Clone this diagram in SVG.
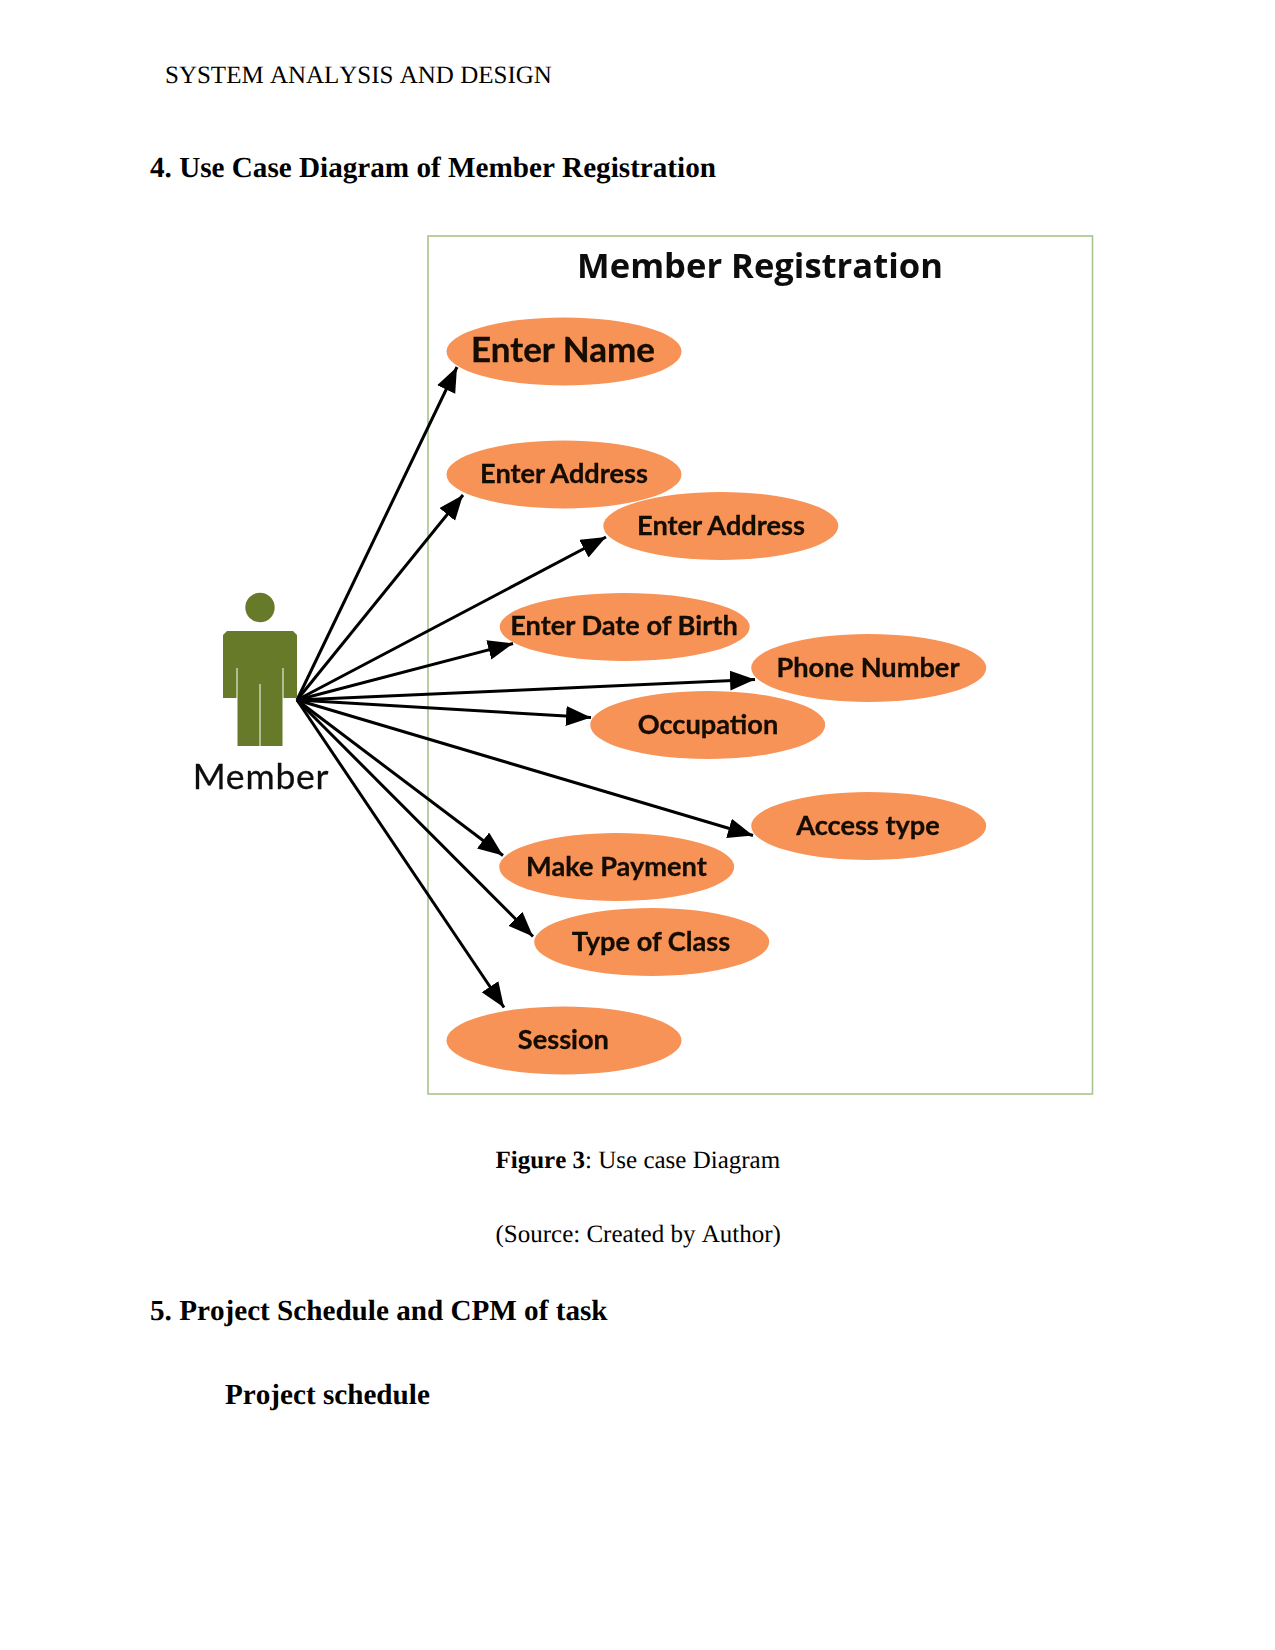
<svg xmlns="http://www.w3.org/2000/svg" width="1275" height="1650" viewBox="0 0 1275 1650">
  <style>
    .page { font-family: "Liberation Serif", "Times New Roman", serif; fill: #000; font-kerning: none; text-rendering: geometricPrecision; }
    .body { font-size: 25px; }
    .head { font-size: 29.17px; font-weight: 700; }
    .uc ellipse { fill: #f79356; }
    .uc text { font-family: Lato, "Liberation Sans", sans-serif; font-weight: 700; fill: #120a06; text-anchor: middle; font-size: 27.2px; stroke: #120a06; stroke-width: 0.3px; }
    .edge { stroke: #000; stroke-width: 3; fill: none; marker-end: url(#tip); }
    .actor { fill: #667a2b; }
  </style>
  <defs>
    <marker id="tip" markerUnits="userSpaceOnUse" markerWidth="28" markerHeight="22" refX="25" refY="10" orient="auto">
      <path d="M0 0L25 10L0 20Z" fill="#000"/>
    </marker>
    <filter id="soft" x="-2%" y="-2%" width="104%" height="104%"><feGaussianBlur stdDeviation="0.55"/></filter>
  </defs>

  <rect width="1275" height="1650" fill="#fff"/>

  <text class="page body" x="165" y="83">SYSTEM ANALYSIS AND DESIGN</text>
  <text class="page head" x="150" y="177">4. Use Case Diagram of Member Registration</text>

  <g id="figure" filter="url(#soft)">
    <g id="boundary">
      <rect x="428" y="236" width="664.500" height="858" fill="#fff" stroke="#a9c48c" stroke-width="1.6"/>
      <text x="760" y="278" text-anchor="middle" style="font-family:'Open Sans','Noto Sans',sans-serif;font-weight:700;font-size:34.6px;fill:#111">Member Registration</text>
    </g>

    <g id="connectors">
      <path class="edge" d="M297 700L457 367"/>
      <path class="edge" d="M297 700L463 495"/>
      <path class="edge" d="M297 700L606 537"/>
      <path class="edge" d="M297 700L513 643.500"/>
      <path class="edge" d="M297 700L755 679.500"/>
      <path class="edge" d="M297 700L591 717.500"/>
      <path class="edge" d="M297 700L753 835.500"/>
      <path class="edge" d="M297 700L503 855.500"/>
      <path class="edge" d="M297 700L533 936.500"/>
      <path class="edge" d="M297 700L504 1007.500"/>
    </g>

    <g id="member">
      <ellipse class="actor" cx="260" cy="607.500" rx="14.700" ry="14.700"/>
      <path class="actor" d="M227 631H293L297 635V698H283.500V668H282.500V746H260.500V684H259.500V746H237.500V668H236.500V698H223V635Z"/>
      <text x="261" y="789" text-anchor="middle" style="font-family:Lato,'Liberation Sans',sans-serif;font-size:35.5px;letter-spacing:0.8px;fill:#111;stroke:#111;stroke-width:0.3px">Member</text>
    </g>

    <g id="enter-name" class="uc"><ellipse cx="564" cy="351.500" rx="117.500" ry="34"/><text x="563" y="362" style="font-size:35px">Enter Name</text></g>
    <g id="enter-address-1" class="uc"><ellipse cx="564" cy="474.500" rx="117.500" ry="34"/><text x="564" y="483.300">Enter Address</text></g>
    <g id="enter-address-2" class="uc"><ellipse cx="720.800" cy="526" rx="117.500" ry="34"/><text x="721" y="535.300">Enter Address</text></g>
    <g id="enter-dob" class="uc"><ellipse cx="624.700" cy="627" rx="125" ry="34"/><text x="624" y="635">Enter Date of Birth</text></g>
    <g id="phone-number" class="uc"><ellipse cx="868.700" cy="668" rx="117.500" ry="34"/><text x="868" y="676.500">Phone Number</text></g>
    <g id="occupation" class="uc"><ellipse cx="707.700" cy="725" rx="117.500" ry="34"/><text x="708" y="733.500">Occupation</text></g>
    <g id="access-type" class="uc"><ellipse cx="868.700" cy="826" rx="117.500" ry="34"/><text x="868" y="834.500">Access type</text></g>
    <g id="make-payment" class="uc"><ellipse cx="616.700" cy="867" rx="117.500" ry="34"/><text x="616.500" y="875.500">Make Payment</text></g>
    <g id="type-of-class" class="uc"><ellipse cx="651.700" cy="942" rx="117.500" ry="34"/><text x="651" y="950.500">Type of Class</text></g>
    <g id="session" class="uc"><ellipse cx="564" cy="1040.500" rx="117.500" ry="34"/><text x="563.400" y="1048.500">Session</text></g>
  </g>

  <text class="page body" x="495.500" y="1168"><tspan font-weight="700">Figure 3</tspan>: Use case Diagram</text>
  <text class="page body" x="495.500" y="1242">(Source: Created by Author)</text>
  <text class="page head" x="150" y="1320">5. Project Schedule and CPM of task</text>
  <text class="page head" x="225" y="1404">Project schedule</text>
</svg>
